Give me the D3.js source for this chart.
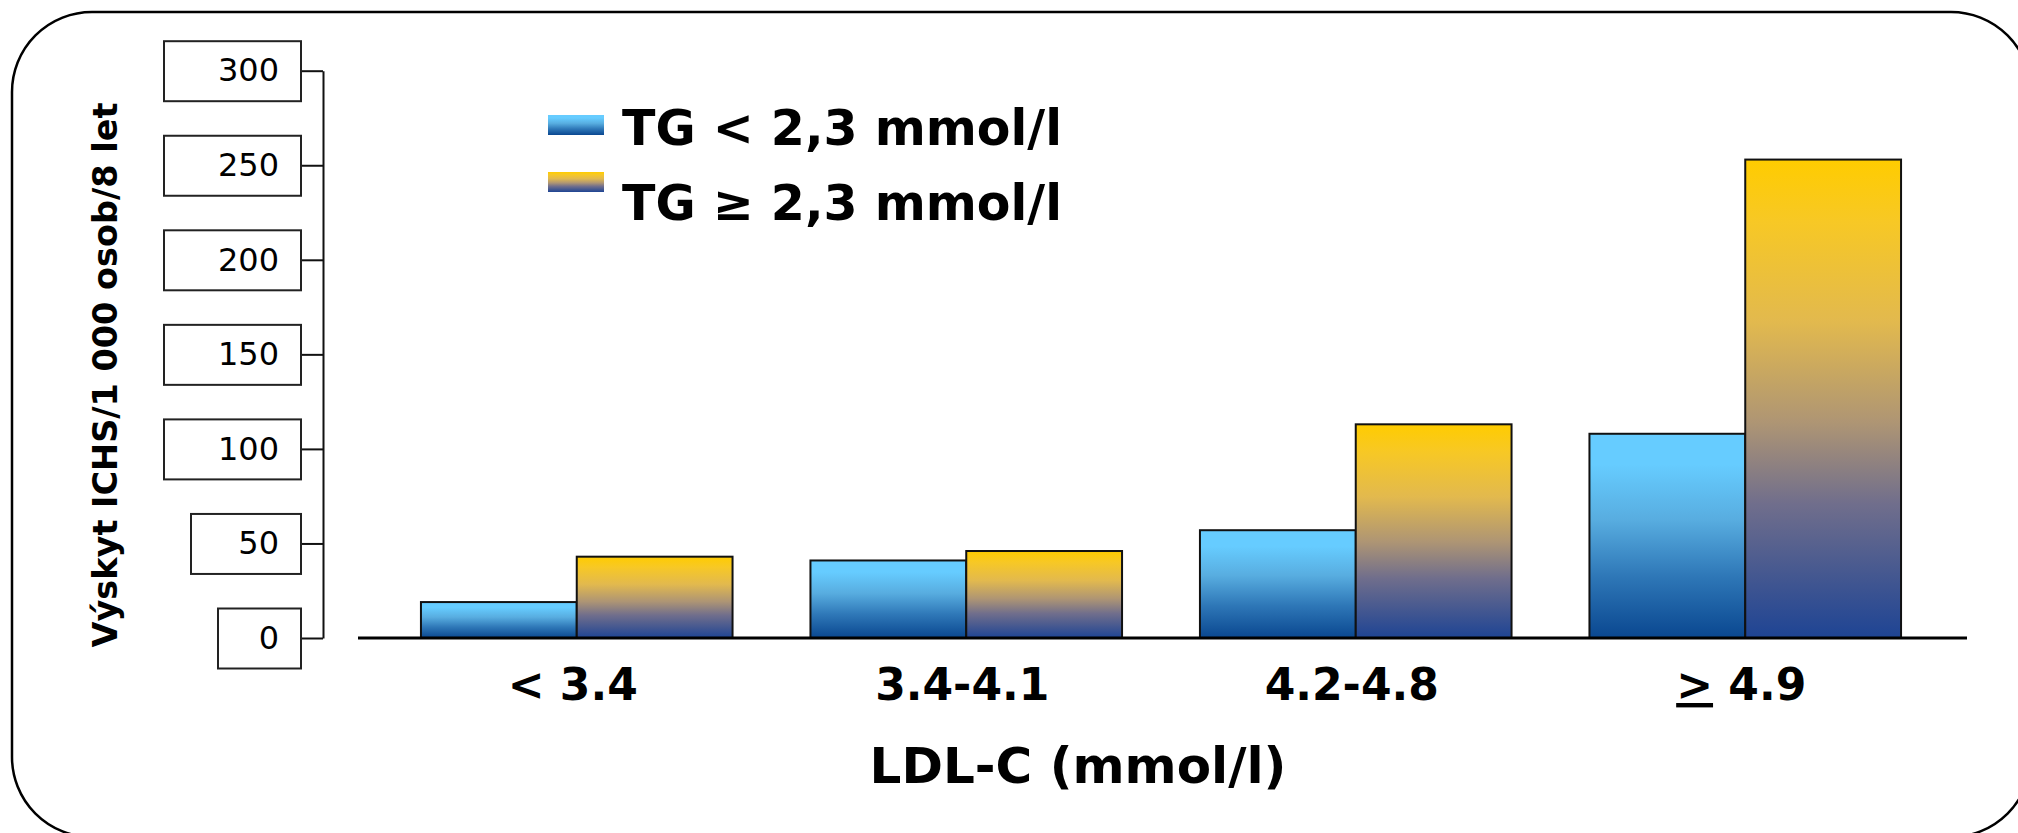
<!DOCTYPE html>
<html>
<head>
<meta charset="utf-8">
<script src="https://cdn.jsdelivr.net/npm/d3@7"></script>
<style>
  html, body { margin: 0; padding: 0; background: #fff; }
  svg { display: block; }
</style>
</head>
<body>
<div id="chart"></div>
<script>
(function () {
  var categories = ['< 3.4', '3.4-4.1', '4.2-4.8', '≥ 4.9'];
  var seriesNames = ['TG < 2,3 mmol/l', 'TG ≥ 2,3 mmol/l'];
  var tgLow  = [19, 41, 57, 108];
  var tgHigh = [43, 46, 113, 253];
  var yTicks = [0, 50, 100, 150, 200, 250, 300];

  var W = 2018, H = 833;
  var FONT = '"DejaVu Sans", Verdana, sans-serif';

  var svg = d3.select('#chart')
    .append('svg')
    .attr('width', W)
    .attr('height', H);

  // gradients
  var defs = svg.append('defs');
  var gradStops = {
    gBlue: [[0, '#66CCFF'], [0.15, '#66CCFF'], [0.42, '#58ADE0'], [0.7, '#2E77B7'], [1, '#0A4790']],
    gGold: [[0, '#FFCC00'], [0.13, '#F7C825'], [0.34, '#E2B94E'], [0.55, '#AE9574'], [0.72, '#706E8C'], [1, '#1E4494']]
  };
  Object.keys(gradStops).forEach(function (id) {
    var lg = defs.append('linearGradient')
      .attr('id', id)
      .attr('x1', 0).attr('y1', 0).attr('x2', 0).attr('y2', 1);
    gradStops[id].forEach(function (s) {
      lg.append('stop').attr('offset', s[0]).attr('stop-color', s[1]);
    });
  });
  var fills = ['url(#gBlue)', 'url(#gGold)'];

  // rounded frame
  svg.append('rect')
    .attr('x', 12).attr('y', 12)
    .attr('width', 2019).attr('height', 825)
    .attr('rx', 80).attr('ry', 80)
    .attr('fill', 'none')
    .attr('stroke', '#000')
    .attr('stroke-width', 2.5);

  var y = d3.scaleLinear().domain([0, 300]).range([638, 70.7]);

  var x0 = d3.scaleBand()
    .domain(categories)
    .range([382, 1940])
    .paddingInner(0.2)
    .paddingOuter(0.1);

  var x1 = d3.scaleBand()
    .domain(seriesNames)
    .range([0, x0.bandwidth()]);

  // y axis with boxed tick labels
  var yAxis = svg.append('g')
    .attr('transform', 'translate(323,0)')
    .call(d3.axisLeft(y)
      .tickValues(yTicks)
      .tickSize(22)
      .tickSizeOuter(0)
      .tickPadding(22));

  yAxis.select('.domain').attr('stroke', '#111').attr('stroke-width', 2);
  yAxis.selectAll('.tick line').attr('stroke', '#111').attr('stroke-width', 2);

  yAxis.selectAll('.tick')
    .insert('rect', 'text')
    .attr('x', function (d) { return -22 - (56 + 27 * String(d).length); })
    .attr('y', -30)
    .attr('width', function (d) { return 56 + 27 * String(d).length; })
    .attr('height', 60)
    .attr('fill', '#fff')
    .attr('stroke', '#222')
    .attr('stroke-width', 2);

  yAxis.selectAll('.tick text')
    .attr('fill', '#000')
    .style('font-family', FONT)
    .style('font-size', '32px');

  // y title
  svg.append('text')
    .attr('transform', 'translate(117,375) rotate(-90)')
    .attr('text-anchor', 'middle')
    .style('font-family', FONT)
    .style('font-weight', 'bold')
    .style('font-size', '33.5px')
    .text('Výskyt ICHS/1 000 osob/8 let');

  // bars
  var rows = categories.map(function (c, i) {
    return { cat: c, vals: [tgLow[i], tgHigh[i]] };
  });

  var groups = svg.append('g')
    .selectAll('g')
    .data(rows)
    .join('g')
    .attr('transform', function (d) { return 'translate(' + x0(d.cat) + ',0)'; });

  groups.selectAll('rect')
    .data(function (d) {
      return d.vals.map(function (v, j) { return { name: seriesNames[j], v: v, j: j }; });
    })
    .join('rect')
    .attr('x', function (d) { return x1(d.name); })
    .attr('y', function (d) { return y(d.v); })
    .attr('width', x1.bandwidth())
    .attr('height', function (d) { return y(0) - y(d.v); })
    .attr('fill', function (d) { return fills[d.j]; })
    .attr('stroke', '#111')
    .attr('stroke-width', 2);

  // baseline
  svg.append('line')
    .attr('x1', 358).attr('x2', 1967)
    .attr('y1', y(0)).attr('y2', y(0))
    .attr('stroke', '#000')
    .attr('stroke-width', 3);

  // category labels
  var catText = svg.append('g')
    .selectAll('text')
    .data(categories)
    .join('text')
    .attr('x', function (d) { return x0(d) + x0.bandwidth() / 2 - 4; })
    .attr('y', 700)
    .attr('text-anchor', 'middle')
    .style('font-family', FONT)
    .style('font-weight', 'bold')
    .style('font-size', '44px');

  catText.each(function (d) {
    var t = d3.select(this);
    if (d.charAt(0) === '≥') {
      t.append('tspan').style('text-decoration', 'underline').text('>');
      t.append('tspan').text(d.slice(1));
    } else {
      t.text(d);
    }
  });

  // x title
  svg.append('text')
    .attr('x', 1078)
    .attr('y', 783)
    .attr('text-anchor', 'middle')
    .style('font-family', FONT)
    .style('font-weight', 'bold')
    .style('font-size', '50px')
    .text('LDL-C (mmol/l)');

  // legend
  var legend = svg.append('g')
    .selectAll('g')
    .data(seriesNames)
    .join('g');

  legend.append('rect')
    .attr('x', 548)
    .attr('y', function (d, i) { return 115 + i * 57; })
    .attr('width', 56)
    .attr('height', 20)
    .attr('fill', function (d, i) { return fills[i]; });

  legend.append('text')
    .attr('x', 622)
    .attr('y', function (d, i) { return 145 + i * 75; })
    .style('font-family', FONT)
    .style('font-weight', 'bold')
    .style('font-size', '49px')
    .text(function (d) { return d; });
})();
</script>
</body>
</html>
